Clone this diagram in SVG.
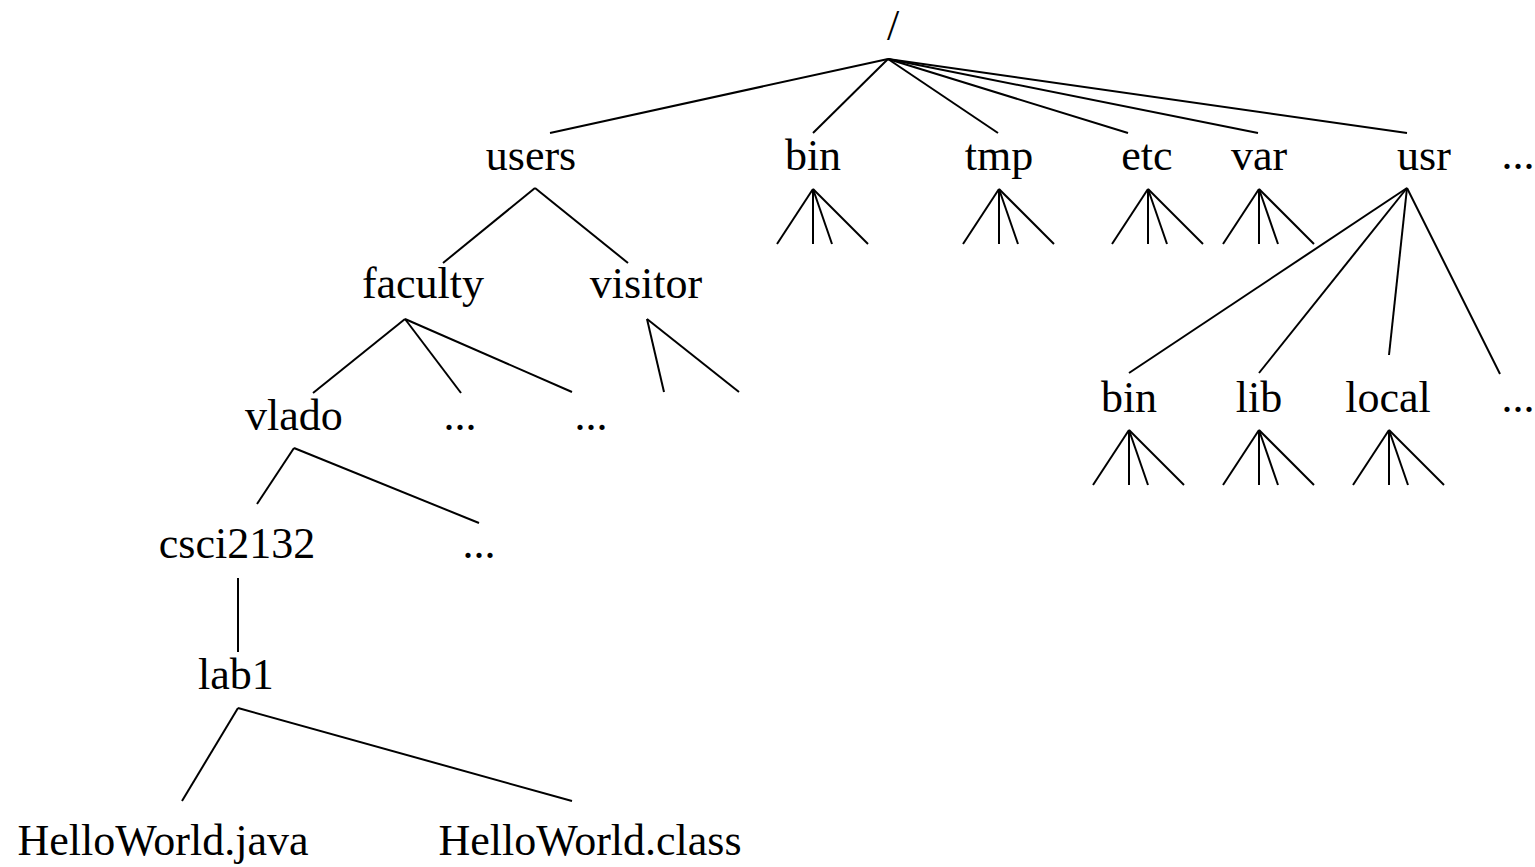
<svg xmlns="http://www.w3.org/2000/svg" width="1535" height="867" viewBox="0 0 1535 867">
<style>
text{font-family:"Liberation Serif","Times New Roman",serif;font-size:44px;fill:#000;text-anchor:middle}
.e line{stroke:#000;stroke-width:2;stroke-linecap:butt}
</style>
<defs>
<g id="fan" stroke="#000" stroke-width="2"><line x1="0" y1="0" x2="-36" y2="55"/><line x1="0" y1="0" x2="0" y2="55"/><line x1="0" y1="0" x2="19" y2="55"/><line x1="0" y1="0" x2="55" y2="55"/></g>
</defs>
<rect width="1535" height="867" fill="#fff"/>
<g id="connectors" class="e">
<line x1="888" y1="59" x2="550" y2="133"/>
<line x1="888" y1="59" x2="813" y2="133"/>
<line x1="888" y1="59" x2="998" y2="133"/>
<line x1="888" y1="59" x2="1128" y2="133"/>
<line x1="888" y1="59" x2="1258" y2="133"/>
<line x1="888" y1="59" x2="1407" y2="133"/>
<line x1="535" y1="188" x2="443" y2="263"/>
<line x1="535" y1="188" x2="628" y2="263"/>
<line x1="405" y1="319" x2="313" y2="393"/>
<line x1="405" y1="319" x2="461" y2="393"/>
<line x1="405" y1="319" x2="572" y2="392"/>
<line x1="647" y1="319" x2="664" y2="392"/>
<line x1="647" y1="319" x2="739" y2="392"/>
<line x1="294" y1="448" x2="257" y2="504"/>
<line x1="294" y1="448" x2="479" y2="523"/>
<line x1="238" y1="578" x2="238" y2="652"/>
<line x1="238" y1="708" x2="182" y2="801"/>
<line x1="238" y1="708" x2="572" y2="801"/>
<line x1="1407" y1="188" x2="1129" y2="373"/>
<line x1="1407" y1="188" x2="1259" y2="373"/>
<line x1="1407" y1="188" x2="1389" y2="355"/>
<line x1="1407" y1="188" x2="1500" y2="374"/>
<use href="#fan" x="813" y="189"/>
<use href="#fan" x="999" y="189"/>
<use href="#fan" x="1148" y="189"/>
<use href="#fan" x="1259" y="189"/>
<use href="#fan" x="1129" y="430"/>
<use href="#fan" x="1259" y="430"/>
<use href="#fan" x="1389" y="430"/>
</g>
<g id="n-root"><text x="893" y="40">/</text></g>
<g id="n-users"><text x="531" y="170">users</text></g>
<g id="n-bin"><text x="813" y="170">bin</text></g>
<g id="n-tmp"><text x="999" y="170">tmp</text></g>
<g id="n-etc"><text x="1147" y="170">etc</text></g>
<g id="n-var"><text x="1259" y="170">var</text></g>
<g id="n-usr"><text x="1424" y="170">usr</text></g>
<g id="n-more-root"><text x="1518" y="169">...</text></g>
<g id="n-faculty"><text x="423" y="298">faculty</text></g>
<g id="n-visitor"><text x="646" y="298">visitor</text></g>
<g id="n-vlado"><text x="294" y="430">vlado</text></g>
<g id="n-more-fac1"><text x="460" y="430">...</text></g>
<g id="n-more-fac2"><text x="591" y="430">...</text></g>
<g id="n-usr-bin"><text x="1129" y="412">bin</text></g>
<g id="n-usr-lib"><text x="1259" y="412">lib</text></g>
<g id="n-usr-local"><text x="1388" y="412">local</text></g>
<g id="n-usr-more"><text x="1518" y="412">...</text></g>
<g id="n-csci2132"><text x="237" y="558">csci2132</text></g>
<g id="n-more-vlado"><text x="479" y="558">...</text></g>
<g id="n-lab1"><text x="236" y="689">lab1</text></g>
<g id="n-java"><text x="163" y="855">HelloWorld.java</text></g>
<g id="n-class"><text x="590" y="855">HelloWorld.class</text></g>
</svg>
